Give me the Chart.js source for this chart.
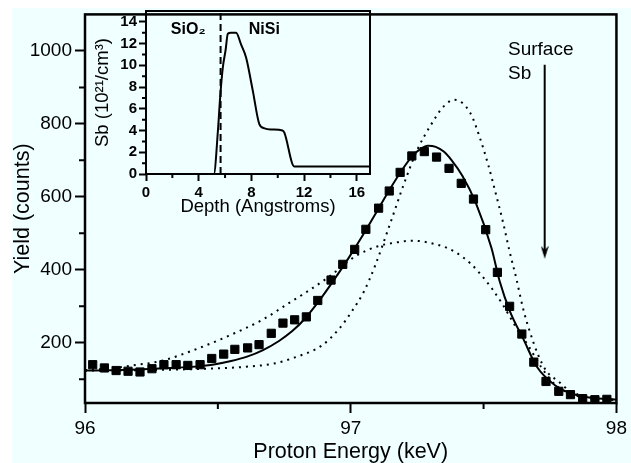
<!DOCTYPE html>
<html>
<head>
<meta charset="utf-8">
<script src="https://cdn.jsdelivr.net/npm/chart.js@4"></script>
<style>
  html, body { margin: 0; padding: 0; background: #fff; }
  #wrap { position: relative; width: 631px; height: 463px; overflow: hidden; }
  #wrap canvas { position: absolute; left: 0; top: 0; }
</style>
</head>
<body>
<div id="wrap">
  <canvas id="main" width="631" height="463"></canvas>
  <canvas id="inset" width="631" height="463"></canvas>
</div>
<script>
// Measured proton energies (keV) and yield (counts)
const energy = [96.029, 96.073, 96.117, 96.162, 96.207, 96.252, 96.297, 96.343, 96.387, 96.433,
                96.477, 96.522, 96.564, 96.612, 96.655, 96.701, 96.745, 96.789, 96.833, 96.876,
                96.926, 96.970, 97.015, 97.057, 97.105, 97.145, 97.186, 97.230, 97.277, 97.323,
                97.370, 97.416, 97.462, 97.508, 97.552, 97.598, 97.644, 97.689, 97.735, 97.783,
                97.827, 97.873, 97.919, 97.964];
const counts = [140, 131, 124, 122, 120, 129, 140, 140, 138, 140,
                157, 169, 182, 186, 195, 226, 254, 263, 271, 316,
                372, 415, 456, 511, 569, 616, 667, 712, 724, 709,
                678, 637, 594, 510, 393, 300, 224, 147, 94, 67,
                58, 47, 44, 45];

// Simulated spectrum for the fitted profile (solid)
const fitEnergy = [96.00, 96.10, 96.20, 96.30, 96.40, 96.48, 96.55, 96.61, 96.67, 96.73,
                   96.78, 96.83, 96.88, 96.93, 96.99, 97.05, 97.10, 97.145, 97.19, 97.23,
                   97.26, 97.29, 97.32, 97.35, 97.38, 97.42, 97.47, 97.53, 97.56, 97.60,
                   97.65, 97.70, 97.77, 97.83, 97.90, 98.00];
const fitCounts = [124, 125, 127, 130, 134, 140, 150, 162, 180, 205,
                   232, 268, 314, 365, 430, 500, 562, 618, 670, 710,
                   730, 740, 737, 724, 700, 658, 585, 459, 370, 285,
                   210, 135, 83, 61, 50, 44];

// Simulated spectra for alternative profiles (dotted)
const narrowEnergy = [96.00, 96.20, 96.46, 96.60, 96.71, 96.79, 96.89, 96.955, 97.005, 97.05,
                      97.09, 97.15, 97.20, 97.25, 97.30, 97.35, 97.39, 97.45, 97.486, 97.517,
                      97.548, 97.573, 97.598, 97.623, 97.648, 97.673, 97.704, 97.735, 97.78, 97.83,
                      97.90, 98.00];
const narrowCounts = [124, 125, 129, 134, 143, 160, 192, 237, 287, 341,
                      408, 530, 635, 728, 795, 848, 866, 830, 762, 689,
                      603, 531, 450, 377, 296, 233, 169, 124, 95, 66,
                      50, 43];
const broadEnergy = [96.00, 96.10, 96.17, 96.29, 96.42, 96.54, 96.67, 96.77, 96.84, 96.92,
                     97.02, 97.10, 97.19, 97.23, 97.33, 97.39, 97.45, 97.48, 97.53, 97.57,
                     97.62, 97.67, 97.72, 97.77, 97.83, 97.90, 98.00];
const broadCounts = [125, 130, 137, 151, 183, 219, 264, 310, 342, 382,
                     438, 464, 477, 480, 468, 450, 418, 395, 350, 307,
                     245, 190, 130, 85, 60, 48, 43];

// Surface Sb marker
const surfaceEnergy = 97.73;
const surfaceArrow = [962, 448];

// Axis ticks
const xTicks = [96, 97, 98];
const xMinor = [96.5, 97.5];
const yTicks = [200, 400, 600, 800, 1000];
const yMinor = [100, 300, 500, 700, 900];

// Sb depth profile
const depth = [0, 5.15, 5.46, 5.63, 5.83, 6.04, 6.21, 6.45, 6.84, 7.22,
               7.6, 8.1, 8.6, 9.0, 9.5, 10.36, 10.5, 11.25, 17];
const sbConc = [0, 0, 4.0, 7.1, 9.8, 11.4, 12.9, 13.0, 13.0, 11.9,
                10.7, 7.7, 4.6, 4.2, 4.1, 4.0, 3.8, 0.7, 0.7];
const interfaceDepth = 5.66;
const depthTicks = [0, 4, 8, 12, 16];
const depthMinor = [2, 6, 10, 14];
const sbTicks = [0, 2, 4, 6, 8, 10, 12, 14];
const sbMinor = [1, 3, 5, 7, 9, 11, 13];

const FONT = "'Liberation Sans', Arial, Helvetica, sans-serif";
const pts = (xs, ys) => xs.map((x, i) => ({ x, y: ys[i] }));
const fixTicks = list => scale => { scale.ticks = list.map(v => ({ value: v })); };

function arrowHead(w, h) {
  const c = document.createElement('canvas');
  c.width = w; c.height = h;
  const g = c.getContext('2d');
  g.fillStyle = '#000';
  g.beginPath();
  g.moveTo(0, 0);
  g.lineTo(w / 2, 4);
  g.lineTo(w, 0);
  g.lineTo(w / 2, h);
  g.closePath();
  g.fill();
  return c;
}

const paper = {
  id: 'paper',
  beforeDraw(chart) {
    const { ctx, width, height } = chart;
    ctx.save();
    ctx.fillStyle = '#ffffff';
    ctx.fillRect(0, 0, width, height);
    ctx.fillStyle = '#f0ffff';
    ctx.fillRect(12, 8, width - 12, height - 8);
    ctx.restore();
  }
};

const frame = lw => ({
  id: 'frame',
  afterDraw(chart) {
    const { ctx, chartArea: a } = chart;
    ctx.save();
    ctx.strokeStyle = '#000';
    ctx.lineWidth = lw;
    ctx.strokeRect(a.left, a.top, a.right - a.left, a.bottom - a.top);
    ctx.restore();
  }
});

const minorTicks = (xs, ys, len, lw) => ({
  id: 'minorTicks',
  afterDraw(chart) {
    const { ctx, chartArea: a, scales: { x, y } } = chart;
    ctx.save();
    ctx.strokeStyle = '#000';
    ctx.lineWidth = lw;
    ctx.beginPath();
    xs.forEach(v => { const p = x.getPixelForValue(v); ctx.moveTo(p, a.bottom); ctx.lineTo(p, a.bottom + len); });
    ys.forEach(v => { const p = y.getPixelForValue(v); ctx.moveTo(a.left, p); ctx.lineTo(a.left - len, p); });
    ctx.stroke();
    ctx.restore();
  }
});

const notes = items => ({
  id: 'notes',
  afterDatasetsDraw(chart) {
    const { ctx, scales: { x, y } } = chart;
    ctx.save();
    ctx.fillStyle = '#000';
    ctx.textBaseline = 'middle';
    items.forEach(it => {
      ctx.font = it.font;
      ctx.textAlign = it.align;
      ctx.fillText(it.text, x.getPixelForValue(it.x), y.getPixelForValue(it.y));
    });
    ctx.restore();
  }
});

Chart.defaults.font.family = FONT;
Chart.defaults.color = '#000';

// Main spectrum
new Chart(document.getElementById('main'), {
  type: 'scatter',
  data: {
    datasets: [
      { data: pts(energy, counts), pointStyle: 'rect', pointRadius: 5.8, backgroundColor: '#000',
        borderColor: '#000', borderWidth: 1, showLine: false },
      { data: pts(fitEnergy, fitCounts), showLine: true, borderColor: '#000', borderWidth: 2,
        pointRadius: 0, cubicInterpolationMode: 'monotone' },
      { data: pts(narrowEnergy, narrowCounts), showLine: true, borderColor: '#000', borderWidth: 2,
        borderDash: [2, 5], pointRadius: 0, cubicInterpolationMode: 'monotone' },
      { data: pts(broadEnergy, broadCounts), showLine: true, borderColor: '#000', borderWidth: 2,
        borderDash: [2, 5], pointRadius: 0, cubicInterpolationMode: 'monotone' },
      { data: surfaceArrow.map(v => ({ x: surfaceEnergy, y: v })), showLine: true, borderColor: '#000',
        borderWidth: 2, pointRadius: [0, 4], pointStyle: arrowHead(8, 13), backgroundColor: '#000' }
    ]
  },
  options: {
    responsive: false,
    animation: false,
    events: [],
    layout: { padding: { left: 0, top: 10, right: 12, bottom: 0 } },
    plugins: { legend: { display: false }, tooltip: { enabled: false } },
    scales: {
      x: {
        type: 'linear', min: 96, max: 98,
        afterBuildTicks: fixTicks(xTicks),
        afterFit: s => { s.height = 60; },
        border: { display: false },
        grid: { drawOnChartArea: false, tickLength: 10, tickWidth: 2, tickColor: '#000' },
        ticks: { autoSkip: false, maxRotation: 0, padding: 4, color: '#000',
                 font: { size: 19 }, callback: v => String(v) },
        title: { display: true, text: 'Proton Energy (keV)', color: '#000',
                 font: { size: 21.5, lineHeight: 1 }, padding: { top: 0, bottom: 0 } }
      },
      y: {
        type: 'linear', min: 35, max: 1100,
        afterBuildTicks: fixTicks(yTicks),
        afterFit: s => { s.width = 85; },
        border: { display: false },
        grid: { drawOnChartArea: false, tickLength: 10, tickWidth: 2, tickColor: '#000' },
        ticks: { autoSkip: false, padding: 3, color: '#000', font: { size: 19 }, callback: v => String(v) },
        title: { display: true, text: 'Yield (counts)', color: '#000',
                 font: { size: 21.5, lineHeight: 1 }, padding: { top: 12, bottom: 0 } }
      }
    }
  },
  plugins: [
    paper,
    frame(2.5),
    minorTicks(xMinor, yMinor, 6, 2),
    notes([
      { text: 'Surface', x: 97.592, y: 1003, align: 'left', font: '19px ' + FONT },
      { text: 'Sb', x: 97.592, y: 938, align: 'left', font: '19px ' + FONT }
    ])
  ]
});

// Inset: Sb depth profile
new Chart(document.getElementById('inset'), {
  type: 'scatter',
  data: {
    datasets: [
      { data: pts(depth, sbConc), showLine: true, borderColor: '#000', borderWidth: 2,
        pointRadius: 0, cubicInterpolationMode: 'monotone' },
      { data: [{ x: interfaceDepth, y: 0 }, { x: interfaceDepth, y: 15 }], showLine: true,
        borderColor: '#000', borderWidth: 2, borderDash: [7, 4], pointRadius: 0 }
    ]
  },
  options: {
    responsive: false,
    animation: false,
    events: [],
    layout: { padding: { left: 0, top: 10, right: 261, bottom: 247 } },
    plugins: { legend: { display: false }, tooltip: { enabled: false } },
    scales: {
      x: {
        type: 'linear', min: 0, max: 17,
        afterBuildTicks: fixTicks(depthTicks),
        afterFit: s => { s.height = 42; },
        border: { display: false },
        grid: { drawOnChartArea: false, tickLength: 7, tickWidth: 2, tickColor: '#000' },
        ticks: { autoSkip: false, maxRotation: 0, padding: 3, color: '#000',
                 font: { size: 15, weight: 'bold' }, callback: v => String(v) },
        title: { display: true, text: 'Depth (Angstroms)', color: '#000',
                 font: { size: 18.5, lineHeight: 1 }, padding: { top: 0, bottom: 0 } }
      },
      y: {
        type: 'linear', min: 0, max: 15,
        afterBuildTicks: fixTicks(sbTicks),
        afterFit: s => { s.width = 146; },
        border: { display: false },
        grid: { drawOnChartArea: false, tickLength: 7, tickWidth: 2, tickColor: '#000' },
        ticks: { autoSkip: false, padding: 2, color: '#000',
                 font: { size: 15, weight: 'bold' }, callback: v => String(v) },
        title: { display: true, text: 'Sb (10²¹/cm³)', color: '#000',
                 font: { size: 18.5, lineHeight: 1 }, padding: { top: 94, bottom: 0 } }
      }
    }
  },
  plugins: [
    frame(2),
    minorTicks(depthMinor, sbMinor, 4, 2),
    notes([
      { text: 'SiO₂', x: 3.2, y: 13.3, align: 'center', font: 'bold 16px ' + FONT },
      { text: 'NiSi', x: 8.98, y: 13.3, align: 'center', font: 'bold 16px ' + FONT }
    ])
  ]
});
</script>
</body>
</html>
